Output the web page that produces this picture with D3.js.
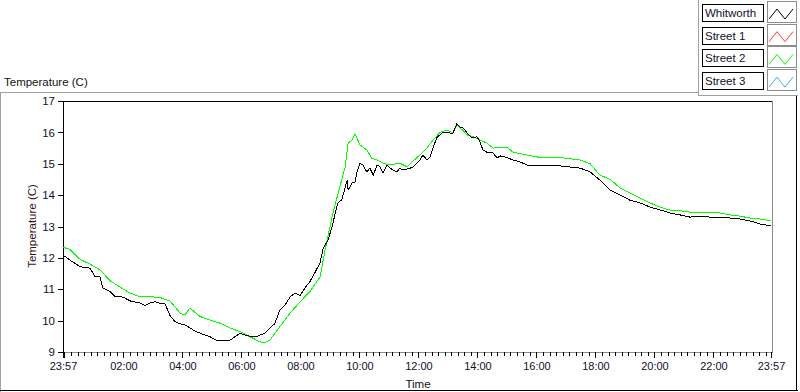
<!DOCTYPE html>
<html>
<head>
<meta charset="utf-8">
<script src="https://cdn.jsdelivr.net/npm/d3@7"></script>
<style>
  body { margin: 0; background: #fff; }
  text { font-family: "Liberation Sans", Arial, sans-serif; }
</style>
</head>
<body>
<div id="chart"></div>
<script>
var width = 800, height = 392;

var seriesNames = ["Whitworth", "Street 1", "Street 2", "Street 3"];
var seriesColors = ["#000000", "#ff3c3c", "#00ff00", "#33b5ff"];
var yTicks = [9, 10, 11, 12, 13, 14, 15, 16, 17];

// minutes after 23:57
var whitworthMins = [0, 14, 35, 55, 65, 75, 81, 96, 106, 116, 126, 136, 157, 167, 177, 187, 197, 207,
  218, 228, 238, 248, 258, 268, 279, 289, 299, 309, 319, 340, 350, 360, 370, 380, 391, 401, 411,
  421, 431, 441, 452, 462, 472, 482, 492, 502, 513, 523, 529, 539, 547, 553, 559, 567, 578, 580,
  588, 594, 598, 604, 610, 618, 624, 631, 639, 645, 651, 659, 665, 679, 685, 692, 706, 712, 726,
  732, 740, 746, 753, 761, 773, 787, 793, 801, 807, 814, 822, 832, 842, 848, 854, 862, 875, 883,
  889, 903, 915, 929, 944, 970, 1011, 1052, 1072, 1092, 1113, 1133, 1153, 1174, 1194, 1214, 1235,
  1255, 1275, 1296, 1316, 1336, 1357, 1377, 1397, 1418, 1440];
var whitworthTemp = [12.09, 11.93, 11.72, 11.67, 11.4, 11.4, 11.04, 10.92, 10.76, 10.77, 10.72, 10.63,
  10.56, 10.48, 10.56, 10.6, 10.55, 10.55, 10.15, 9.97, 9.9, 9.86, 9.77, 9.67, 9.6, 9.54, 9.49, 9.39,
  9.36, 9.38, 9.49, 9.6, 9.54, 9.5, 9.48, 9.54, 9.6, 9.76, 9.91, 10.34, 10.5, 10.76, 10.88, 10.8,
  11.04, 11.24, 11.55, 11.85, 12.3, 12.57, 12.98, 13.37, 13.75, 13.85, 14.48, 14.16, 14.39, 14.42,
  14.74, 15.02, 14.96, 14.74, 14.86, 14.64, 14.96, 14.9, 14.7, 14.96, 14.86, 14.74, 14.86, 14.8,
  14.86, 14.9, 15.12, 15.28, 15.12, 15.2, 15.53, 15.85, 16.0, 15.98, 15.98, 16.27, 16.17, 16.14,
  15.98, 15.82, 15.86, 15.7, 15.44, 15.37, 15.34, 15.18, 15.25, 15.2, 15.12, 15.06, 14.96, 14.96,
  14.93, 14.86, 14.74, 14.48, 14.16, 14.0, 13.84, 13.75, 13.62, 13.53, 13.43, 13.37, 13.3, 13.33,
  13.3, 13.3, 13.27, 13.24, 13.18, 13.08, 13.02];

var street2Mins = [0, 14, 35, 55, 75, 96, 116, 136, 157, 177, 197, 218, 238, 248, 258, 279, 299, 319,
  340, 360, 380, 401, 411, 421, 441, 462, 482, 502, 523, 533, 549, 563, 574, 580, 588, 594, 604,
  618, 628, 639, 651, 665, 685, 700, 710, 726, 740, 753, 767, 781, 793, 801, 812, 822, 834, 848,
  862, 875, 903, 915, 944, 970, 1011, 1052, 1072, 1092, 1113, 1133, 1153, 1174, 1194, 1214, 1235,
  1255, 1275, 1296, 1316, 1336, 1357, 1377, 1397, 1418, 1440];
var street2Temp = [12.34, 12.27, 11.95, 11.8, 11.62, 11.27, 11.07, 10.88, 10.76, 10.76, 10.74, 10.62,
  10.24, 10.18, 10.4, 10.13, 10.02, 9.92, 9.76, 9.65, 9.49, 9.32, 9.31, 9.38, 9.81, 10.24, 10.6,
  10.92, 11.4, 12.25, 13.43, 14.26, 14.9, 15.66, 15.76, 15.95, 15.6, 15.44, 15.18, 15.12, 15.02,
  14.96, 15.02, 14.9, 15.06, 15.28, 15.5, 15.76, 16.0, 16.08, 15.98, 16.23, 16.08, 15.92, 15.86,
  15.76, 15.66, 15.5, 15.53, 15.37, 15.28, 15.2, 15.2, 15.12, 15.0, 14.64, 14.5, 14.23, 14.07,
  13.9, 13.75, 13.62, 13.52, 13.5, 13.46, 13.46, 13.46, 13.43, 13.37, 13.33, 13.27, 13.24, 13.18];

var start = new Date(2000, 0, 1, 23, 57);
var end = d3.timeMinute.offset(start, 1440);

var x = d3.scaleTime().domain([start, end]).range([63, 771]);
var y = d3.scaleLinear().domain([9, 17]).range([352, 101]);

var svg = d3.select("#chart").append("svg")
    .attr("width", width)
    .attr("height", height);

var hline = function(x1, x2, yy, color) {
  svg.append("line").attr("x1", x1).attr("x2", x2).attr("y1", yy + 0.5).attr("y2", yy + 0.5)
    .attr("stroke", color).attr("shape-rendering", "crispEdges");
};
var vline = function(xx, y1, y2, color) {
  svg.append("line").attr("x1", xx + 0.5).attr("x2", xx + 0.5).attr("y1", y1).attr("y2", y2)
    .attr("stroke", color).attr("shape-rendering", "crispEdges");
};

// outer panel
hline(0, 698, 92, "#a0a0a0");
vline(0, 92, 392, "#a0a0a0");
hline(0, 798, 390, "#000");
vline(796, 95, 391, "#000");
// legend frame
vline(698, 0, 96, "#a0a0a0");
hline(698, 798, 95, "#a0a0a0");

svg.append("text")
    .attr("x", 4).attr("y", 86)
    .attr("font-size", "11.5px")
    .attr("fill", "#111")
    .text("Temperature (C)");

// plot frame
hline(63, 772, 101, "#000");
vline(63, 101, 353, "#000");
hline(63, 773, 352, "#8c8c8c");
vline(772, 101, 353, "#8c8c8c");

// x axis
var majors = [start].concat(d3.timeHour.every(2).range(start, end), [end]);
var midnight = new Date(2000, 0, 2, 0, 0);
var minors = d3.range(-1, 108).map(function(k) {
  return new Date(midnight.getTime() + k * 120 / 9 * 60000);
}).filter(function(d, i) {
  return d > start && d < end && ((i - 1) % 9 != 0);
});

svg.append("g")
    .attr("transform", "translate(0,352)")
    .call(d3.axisBottom(x).tickValues(minors).tickSize(4).tickFormat(""))
    .call(function(g) { g.select(".domain").remove(); })
    .selectAll("line").attr("shape-rendering", "crispEdges");

var xAxis = svg.append("g")
    .attr("transform", "translate(0,352)")
    .call(d3.axisBottom(x).tickValues(majors).tickSize(6).tickPadding(4)
      .tickFormat(function(d) {
        if (d.getHours() == 0 && d.getMinutes() == 0) return "";
        return d3.timeFormat("%H:%M")(d);
      }));
xAxis.select(".domain").remove();
xAxis.selectAll("line").attr("shape-rendering", "crispEdges");
xAxis.selectAll("text").attr("font-size", "11px").attr("fill", "#10102a")
    .attr("font-family", "'Liberation Sans', Arial, sans-serif");

svg.append("text")
    .attr("x", 418).attr("y", 388)
    .attr("text-anchor", "middle")
    .attr("font-size", "11.5px")
    .attr("fill", "#111")
    .text("Time");

// y axis
var yAxis = svg.append("g")
    .attr("transform", "translate(63,0)")
    .call(d3.axisLeft(y).tickValues(yTicks).tickSize(5).tickPadding(3));
yAxis.select(".domain").remove();
yAxis.selectAll("line").attr("shape-rendering", "crispEdges");
yAxis.selectAll("text").attr("font-size", "11.5px").attr("fill", "#10102a")
    .attr("font-family", "'Liberation Sans', Arial, sans-serif");

svg.append("text")
    .attr("transform", "translate(36,226) rotate(-90)")
    .attr("text-anchor", "middle")
    .attr("font-size", "11.5px")
    .attr("fill", "#3a1414")
    .text("Temperature (C)");

// plots
var line = d3.line()
    .x(function(d) { return x(d3.timeMinute.offset(start, d[0])); })
    .y(function(d) { return y(d[1]); });

var plots = [
  { color: seriesColors[2], data: d3.zip(street2Mins, street2Temp) },
  { color: seriesColors[0], data: d3.zip(whitworthMins, whitworthTemp) }
];

svg.selectAll("path.plot")
    .data(plots)
    .enter()
    .append("path")
    .attr("class", "plot")
    .attr("fill", "none")
    .attr("stroke", function(d) { return d.color; })
    .attr("stroke-width", 1)
    .attr("shape-rendering", "crispEdges")
    .attr("d", function(d) { return line(d.data); });

// legend
var rows = svg.selectAll("g.legend")
    .data(seriesNames)
    .enter()
    .append("g")
    .attr("class", "legend")
    .attr("transform", function(d, i) { return "translate(0," + (i * 22.7) + ")"; });

rows.append("rect")
    .attr("x", 702.5).attr("y", 4.5)
    .attr("width", 61).attr("height", 17)
    .attr("fill", "#fff")
    .attr("stroke", "#000")
    .attr("shape-rendering", "crispEdges");

rows.append("text")
    .attr("x", 705).attr("y", 17)
    .attr("font-size", "11.5px")
    .attr("fill", "#10102a")
    .text(function(d) { return d; });

rows.append("rect")
    .attr("x", 767.5).attr("y", 1.5)
    .attr("width", 29).attr("height", 21)
    .attr("fill", "#fff")
    .attr("stroke", "#8c8c8c")
    .attr("shape-rendering", "crispEdges");

rows.append("path")
    .attr("fill", "none")
    .attr("stroke", function(d, i) { return seriesColors[i]; })
    .attr("d", "M769,19L777,9L785,19L793,9");
</script>
</body>
</html>
